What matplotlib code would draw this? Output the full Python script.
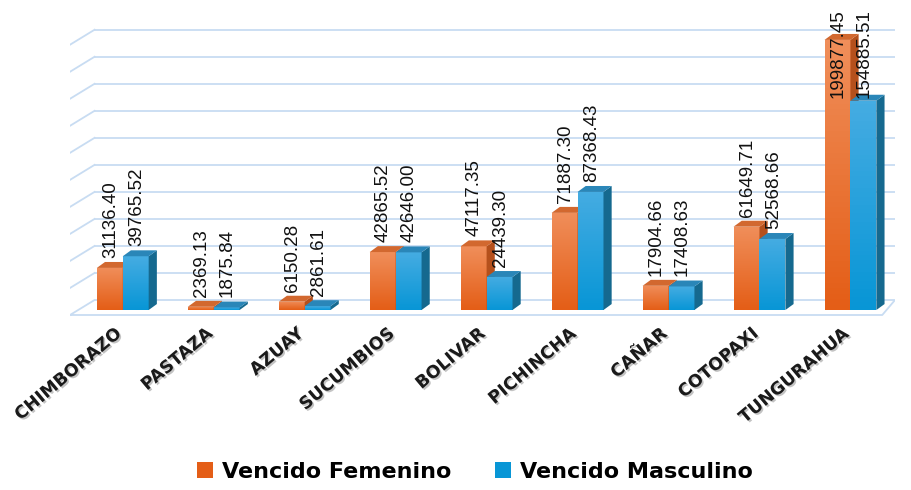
import numpy as np
import matplotlib
matplotlib.use('Agg')
import matplotlib.pyplot as plt
from matplotlib.patches import Rectangle, Polygon
from matplotlib.colors import LinearSegmentedColormap
import matplotlib.patheffects as pe

provincias = ['CHIMBORAZO', 'PASTAZA', 'AZUAY', 'SUCUMBIOS', 'BOLIVAR',
              'PICHINCHA', 'CAÑAR', 'COTOPAXI', 'TUNGURAHUA']
femenino = [31136.40, 2369.13, 6150.28, 42865.52, 47117.35,
            71887.30, 17904.66, 61649.71, 199877.45]
masculino = [39765.52, 1875.84, 2861.61, 42646.00, 24439.30,
             87368.43, 17408.63, 52568.66, 154885.51]
series = ['Vencido Femenino', 'Vencido Masculino']

# colores (frente arriba, frente abajo, lado, tapa)
col_f = ('#F08E5A', '#E45E17', '#B5501C', '#D2682F')
col_m = ('#45ACE2', '#0896D6', '#15698F', '#2A86B8')

W, H = 912, 490
fig = plt.figure(figsize=(W / 100, H / 100), dpi=100)
# 1 px = 740 unidades en y, 91 px por grupo en x
ax = fig.add_axes([70 / W, (H - 318) / H, 825 / W, 310 / H])
ax.set_xlim(-0.58, 8.49)
ax.set_ylim(-5920, 223480)
ax.axis('off')

bw = 0.285
dx, dy = 0.09, 4400          # profundidad de las barras
wx, wy0, wy1 = 0.27, -3700, 7400   # pared / piso
grid_c = '#C8DCF2'

# lineas de fondo
for v in range(20000, 200001, 20000):
    ax.plot([-0.58, -0.58 + wx], [v + wy0, v + wy1], color=grid_c, lw=1.3, zorder=1)
    ax.plot([-0.58 + wx, 8.49], [v + wy1, v + wy1], color=grid_c, lw=1.3, zorder=1)
# piso
ax.plot([-0.58, 8.35, 8.49, -0.58 + wx, -0.58],
        [wy0, wy0, wy1, wy1, wy0], color=grid_c, lw=1.3, zorder=1)


def barra(x0, h, cols):
    top, bot, side, cap = cols
    cmap = LinearSegmentedColormap.from_list('g', [bot, top])
    rect = Rectangle((x0, 0), bw, h, facecolor='none', edgecolor='none')
    ax.add_patch(rect)
    im = ax.imshow(np.linspace(0, 1, 50).reshape(-1, 1), cmap=cmap, origin='lower',
                   extent=[x0, x0 + bw, 0, max(h, 1)], aspect='auto', zorder=3)
    im.set_clip_path(rect)
    ax.add_patch(Polygon([(x0 + bw, 0), (x0 + bw + dx, dy), (x0 + bw + dx, h + dy),
                          (x0 + bw, h)], closed=True, facecolor=side, edgecolor='none', zorder=3))
    ax.add_patch(Polygon([(x0, h), (x0 + dx, h + dy), (x0 + bw + dx, h + dy),
                          (x0 + bw, h)], closed=True, facecolor=cap, edgecolor='none', zorder=3))


for i in range(len(provincias)):
    barra(i - bw, femenino[i], col_f)
    barra(i, masculino[i], col_m)
    for x0, v in [(i - bw, femenino[i]), (i, masculino[i])]:
        ax.text(x0 + bw / 2 + 0.01, min(v + 7500, 157000), f'{v:.2f}', rotation=90,
                ha='center', va='bottom', fontsize=13.5, family='Liberation Sans',
                color='#111111', zorder=5)
    ax.text(i - 0.1, -10500, provincias[i], rotation=40, ha='right', va='top',
            rotation_mode='anchor', fontsize=12.5, fontweight='bold', color='#1a1a1a',
            family='DejaVu Sans', clip_on=False,
            path_effects=[pe.withSimplePatchShadow(offset=(1.2, -1.2), shadow_rgbFace='#888888', alpha=0.5)])

hf = Rectangle((0, 0), 1, 1, facecolor=col_f[1])
hm = Rectangle((0, 0), 1, 1, facecolor=col_m[1])
fig.legend([hf, hm], series, loc='center', bbox_to_anchor=(475 / W, 1 - 472 / H),
           ncol=2, frameon=False, handlelength=0.7, handleheight=0.7,
           handletextpad=0.4, columnspacing=2.0,
           prop={'family': 'DejaVu Sans', 'weight': 'bold', 'size': 16})

fig.savefig('out.png', dpi=100)
